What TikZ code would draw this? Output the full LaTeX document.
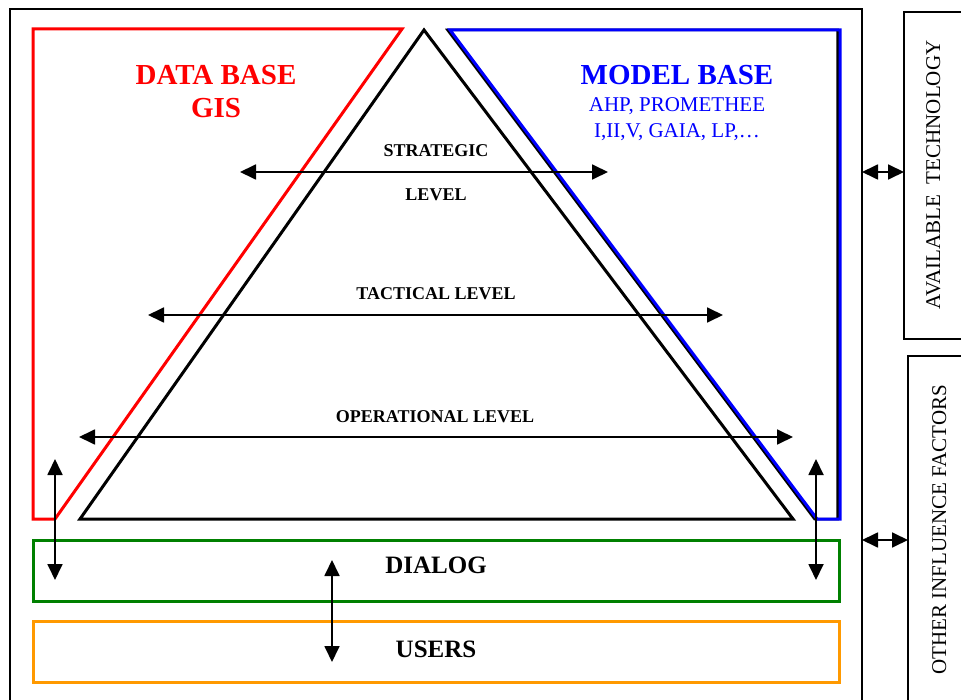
\documentclass[tikz,border=0pt]{standalone}
\usepackage{fontspec}
\setmainfont{Liberation Serif}
\usetikzlibrary{arrows.meta}
\definecolor{dbred}{RGB}{255,0,0}
\definecolor{mbblue}{RGB}{0,0,255}
\definecolor{dlgreen}{RGB}{0,128,0}
\definecolor{usorange}{RGB}{255,153,0}
\begin{document}
\begin{tikzpicture}[x=1pt,y=-1pt,
  lvl/.style={font=\fontsize{18}{20}\selectfont\bfseries,anchor=base},
  big/.style={font=\fontsize{25}{27}\selectfont\bfseries,anchor=base},
  side/.style={font=\fontsize{21}{23}\selectfont,anchor=base,rotate=90},
  twoway/.style={{Triangle[length=16pt,width=15pt]}-{Triangle[length=16pt,width=15pt]},line width=1.8pt}]
\useasboundingbox (0,0) rectangle (961,700);
\clip (0,0) rectangle (961,700);
% frames
\draw[line width=1.5pt] (10,9) rectangle (862,712);
\draw[line width=1.2pt] (904,12) rectangle (990,339);
\draw[line width=1.2pt] (908,356) rectangle (990,712);
% data base, pyramid, model base
\draw[dbred,line width=3pt,line join=miter] (33,29) -- (402,29) -- (55,519) -- (33,519) -- cycle;
\draw[line width=3pt,line join=miter] (424,30) -- (793,519) -- (80,519) -- cycle;
\draw[line width=2.5pt,xshift=-2.5pt] (450,30) -- (840,30) -- (840,519) -- (817,519) -- cycle;
\draw[mbblue,line width=3pt,line join=miter] (450,30) -- (840,30) -- (840,519) -- (817,519) -- cycle;
% dialog and users
\draw[dlgreen,line width=3pt] (33,540) rectangle (839,601);
\draw[usorange,line width=3pt] (33,621) rectangle (839,682);
% texts
\node[dbred,font=\fontsize{29}{31}\selectfont\bfseries,anchor=base] (db) at (216,85) {DATA BASE};
\node[dbred,font=\fontsize{29}{31}\selectfont\bfseries,anchor=base] (gis) at (216,118) {GIS};
\node[mbblue,font=\fontsize{29}{31}\selectfont\bfseries,anchor=base] (mb) at (677,85) {MODEL BASE};
\node[mbblue,font=\fontsize{21}{23}\selectfont,anchor=base] (ahp) at (677,112) {AHP, PROMETHEE};
\node[mbblue,font=\fontsize{21}{23}\selectfont,anchor=base] (gaia) at (677,138) {I,II,V, GAIA, LP,\ldots};
\node[lvl] (strat) at (436,157) {STRATEGIC};
\node[lvl] (stratlv) at (436,201) {LEVEL};
\node[lvl] (tact) at (436,300) {TACTICAL LEVEL};
\node[lvl] (oper) at (435,422) {OPERATIONAL LEVEL};
\node[big] (dialog) at (436,573) {DIALOG};
\node[big] (users) at (436,657) {USERS};
\node[side] (tech) at (940,175) {AVAILABLE\ \ TECHNOLOGY};
\node[side] (other) at (946,530) {OTHER INFLUENCE FACTORS};
% arrow ends
\coordinate (s1) at (240,172); \coordinate (s2) at (608,172);
\coordinate (t1) at (148,315); \coordinate (t2) at (723,315);
\coordinate (o1) at (79,437);  \coordinate (o2) at (793,437);
\coordinate (l1) at (55,459);  \coordinate (l2) at (55,580);
\coordinate (r1) at (816,459); \coordinate (r2) at (816,580);
\coordinate (u1) at (332,560); \coordinate (u2) at (332,662);
\coordinate (a1) at (862,172); \coordinate (a2) at (904,172);
\coordinate (f1) at (862,540); \coordinate (f2) at (908,540);
\draw[twoway] (s1) -- (s2);
\draw[twoway] (t1) -- (t2);
\draw[twoway] (o1) -- (o2);
\draw[twoway] (l1) -- (l2);
\draw[twoway] (r1) -- (r2);
\draw[twoway] (u1) -- (u2);
\draw[twoway] (a1) -- (a2);
\draw[twoway] (f1) -- (f2);
\end{tikzpicture}
\end{document}
